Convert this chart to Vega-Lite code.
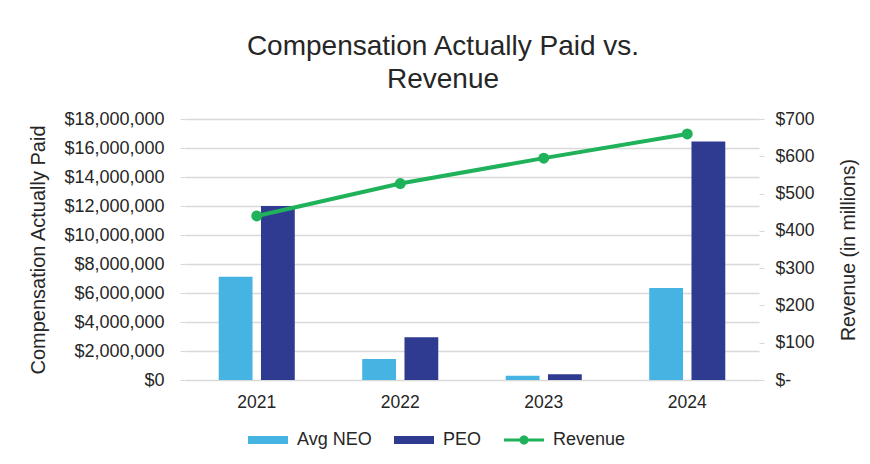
{
  "$schema": "https://vega.github.io/schema/vega-lite/v6.json",
  "autosize": "none",
  "width": 574,
  "height": 261,
  "padding": {"left": 185, "top": 119, "right": 111, "bottom": 84},
  "background": "white",
  "title": {
    "text": ["Compensation Actually Paid vs.", "Revenue"],
    "fontSize": 28,
    "fontWeight": "normal",
    "font": "Liberation Sans",
    "color": "#262626",
    "lineHeight": 33,
    "anchor": "middle",
    "dx": -29,
    "offset": 16
  },
  "datasets": {
    "comp": [
      {"year": "2021", "series": "Avg NEO", "value": 7120000},
      {"year": "2021", "series": "PEO", "value": 12000000},
      {"year": "2022", "series": "Avg NEO", "value": 1450000},
      {"year": "2022", "series": "PEO", "value": 2950000},
      {"year": "2023", "series": "Avg NEO", "value": 300000},
      {"year": "2023", "series": "PEO", "value": 400000},
      {"year": "2024", "series": "Avg NEO", "value": 6350000},
      {"year": "2024", "series": "PEO", "value": 16450000}
    ],
    "rev": [
      {"year": "2021", "series": "Revenue", "revenue": 440},
      {"year": "2022", "series": "Revenue", "revenue": 527},
      {"year": "2023", "series": "Revenue", "revenue": 595},
      {"year": "2024", "series": "Revenue", "revenue": 660}
    ]
  },
  "encoding": {
    "x": {
      "field": "year",
      "type": "nominal",
      "scale": {"paddingInner": 0.47, "paddingOuter": 0.235},
      "axis": {
        "title": null,
        "labelAngle": 0,
        "labelFontSize": 17.5,
        "labelPadding": 13,
        "ticks": false,
        "domain": false,
        "grid": false
      }
    }
  },
  "layer": [
    {
      "data": {"name": "comp"},
      "mark": {"type": "bar"},
      "encoding": {
        "xOffset": {"field": "series", "type": "nominal", "scale": {"paddingInner": 0.2, "paddingOuter": 0}},
        "y": {
          "field": "value",
          "type": "quantitative",
          "scale": {"domain": [0, 18000000], "nice": false},
          "axis": {
            "title": "Compensation Actually Paid",
            "titleFontSize": 20,
            "titleFontWeight": "normal",
            "titlePadding": 15,
            "values": [0, 2000000, 4000000, 6000000, 8000000, 10000000, 12000000, 14000000, 16000000, 18000000],
            "labelExpr": "'$' + format(datum.value, ',')",
            "labelFontSize": 18,
            "labelPadding": 16,
            "tickSize": 5,
            "tickColor": "#D9D9D9",
            "domain": false,
            "grid": true
          }
        },
        "color": {
          "field": "series",
          "type": "nominal",
          "scale": {"domain": ["Avg NEO", "PEO", "Revenue"], "range": ["#45B4E3", "#2E3B91", "#1FB25A"]},
          "legend": {
            "title": null,
            "orient": "none",
            "direction": "horizontal",
            "legendX": 63,
            "legendY": 301,
            "labelFontSize": 18,
            "symbolSize": 1600,
            "labelOffset": 9,
            "columnPadding": 22,
            "encode": {
              "symbols": {
                "update": {
                  "shape": {"signal": "datum.value === 'Revenue' ? 'M-1,-0.08H1V0.08H-1Z M-0.23,0A0.23,0.23 0 1,1 0.23,0A0.23,0.23 0 1,1 -0.23,0Z' : 'M-1,-0.2H1V0.2H-1Z'"},
                  "fill": {"signal": "scale('color', datum.value)"},
                  "stroke": {"value": "transparent"},
                  "strokeWidth": {"value": 0},
                  "opacity": {"value": 1},
                  "fillOpacity": {"value": 1}
                }
              }
            }
          }
        }
      }
    },
    {
      "data": {"name": "rev"},
      "mark": {"type": "line", "strokeWidth": 4, "point": {"filled": true, "size": 120}},
      "encoding": {
        "y": {
          "field": "revenue",
          "type": "quantitative",
          "scale": {"domain": [0, 700], "nice": false},
          "axis": {
            "orient": "right",
            "title": "Revenue (in millions)",
            "titleAngle": 270,
            "titleFontSize": 19.5,
            "titleFontWeight": "normal",
            "titlePadding": 45,
            "values": [0, 100, 200, 300, 400, 500, 600, 700],
            "labelExpr": "datum.value === 0 ? '$-' : '$' + format(datum.value, 'd')",
            "labelFontSize": 17.5,
            "labelPadding": 11,
            "tickSize": 5,
            "tickColor": "#D9D9D9",
            "domain": false,
            "grid": false
          }
        },
        "color": {"field": "series", "type": "nominal"}
      }
    }
  ],
  "resolve": {"scale": {"y": "independent"}},
  "config": {
    "font": "Liberation Sans",
    "view": {"stroke": null},
    "axis": {
      "labelColor": "#262626",
      "titleColor": "#262626",
      "gridColor": "#D9D9D9",
      "gridWidth": 1.5,
      "labelFont": "Liberation Sans",
      "titleFont": "Liberation Sans"
    },
    "legend": {"labelColor": "#262626", "labelFont": "Liberation Sans"}
  }
}
